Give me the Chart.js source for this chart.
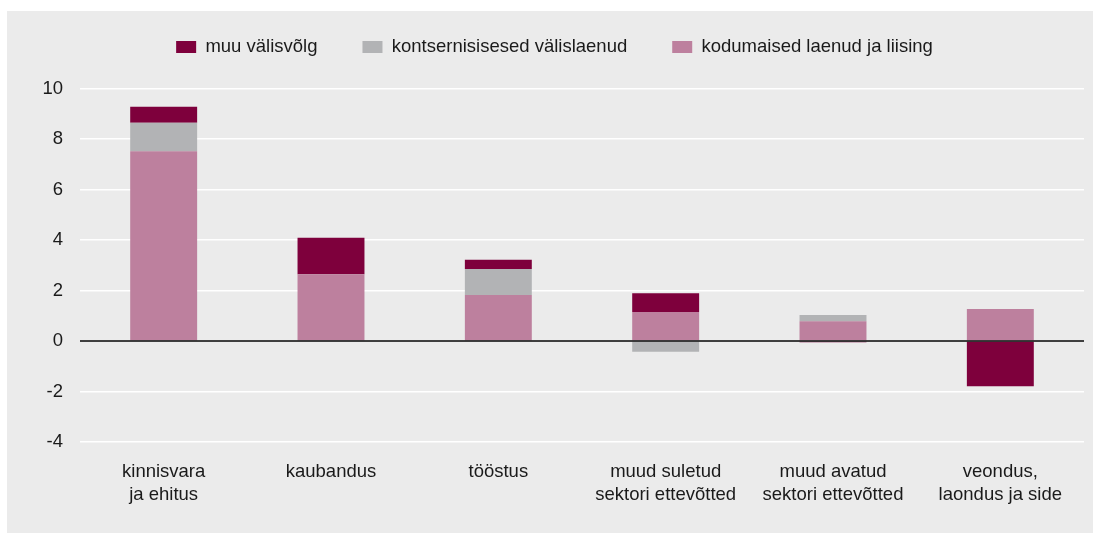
<!DOCTYPE html>
<html>
<head>
<meta charset="utf-8">
<script src="https://cdn.jsdelivr.net/npm/chart.js@4.4.0/dist/chart.umd.min.js"></script>
<style>
    html, body { margin: 0; padding: 0; background: #fff; }
    #panel {
        position: absolute;
        left: 7px;
        top: 11px;
        width: 1086px;
        height: 522px;
        background: #ebebeb;
    }
</style>
</head>
<body>
<div id="panel"><canvas id="chart" width="1086" height="522"></canvas></div>
<script>
const categories = [
    ['kinnisvara', 'ja ehitus'],
    'kaubandus',
    'tööstus',
    ['muud suletud', 'sektori ettevõtted'],
    ['muud avatud', 'sektori ettevõtted'],
    ['veondus,', 'laondus ja side']
];

const kodumaised = [7.52, 2.65, 1.83, 1.15, 0.79, 1.27];
const kontsernisisesed = [1.13, 0, 1.03, -0.42, 0.24, 0];
const muuValisvolg = [0.64, 1.44, 0.36, 0.75, -0.05, -1.79];

const yTicks = [-4, -2, 0, 2, 4, 6, 8, 10];

const fontFamily = '"Liberation Sans", Arial, sans-serif';
const fontSize = 18.5;

// black line at zero, drawn over the bars
const zeroLine = {
    id: 'zeroLine',
    afterDatasetsDraw(chart) {
        const y = chart.scales.y.getPixelForValue(0);
        const ctx = chart.ctx;
        ctx.save();
        ctx.strokeStyle = '#000';
        ctx.lineWidth = 1.6;
        ctx.beginPath();
        ctx.moveTo(chart.chartArea.left, y);
        ctx.lineTo(chart.chartArea.right, y);
        ctx.stroke();
        ctx.restore();
    }
};

// more room under the legend than its padding gives
const legendGap = {
    id: 'legendGap',
    afterInit(chart) {
        const legend = chart.legend;
        const fit = legend.fit.bind(legend);
        legend.fit = function () {
            fit();
            this.height += 22.5;
        };
    }
};

new Chart(document.getElementById('chart'), {
    type: 'bar',
    data: {
        labels: categories,
        datasets: [
            {
                label: 'kodumaised laenud ja liising',
                data: kodumaised,
                backgroundColor: '#bd809e',
                barPercentage: 0.4,
                categoryPercentage: 1
            },
            {
                label: 'kontsernisisesed välislaenud',
                data: kontsernisisesed,
                backgroundColor: '#b2b3b5',
                barPercentage: 0.4,
                categoryPercentage: 1
            },
            {
                label: 'muu välisvõlg',
                data: muuValisvolg,
                backgroundColor: '#7e003c',
                barPercentage: 0.4,
                categoryPercentage: 1
            }
        ]
    },
    options: {
        responsive: false,
        animation: false,
        layout: { padding: { top: -18.25, right: 9, bottom: 16.75, left: 18 } },
        plugins: {
            tooltip: { enabled: false },
            legend: {
                reverse: true,
                labels: {
                    color: '#1a1a1a',
                    font: { family: fontFamily, size: fontSize },
                    boxWidth: 20,
                    boxHeight: 12,
                    padding: 45
                }
            }
        },
        scales: {
            x: {
                stacked: true,
                grid: { display: false },
                border: { display: false },
                ticks: {
                    color: '#1a1a1a',
                    font: { family: fontFamily, size: fontSize, lineHeight: 1.25 },
                    padding: 10,
                    maxRotation: 0
                }
            },
            y: {
                stacked: true,
                min: -4,
                max: 10,
                afterBuildTicks(scale) {
                    scale.ticks = yTicks.map(v => ({ value: v }));
                },
                afterFit(scale) {
                    scale.width = 55;
                },
                grid: {
                    color: '#ffffff',
                    lineWidth: 1.5,
                    drawTicks: false
                },
                border: { display: false },
                ticks: {
                    color: '#1a1a1a',
                    font: { family: fontFamily, size: fontSize },
                    padding: 17
                }
            }
        }
    },
    plugins: [zeroLine, legendGap]
});
</script>
</body>
</html>
